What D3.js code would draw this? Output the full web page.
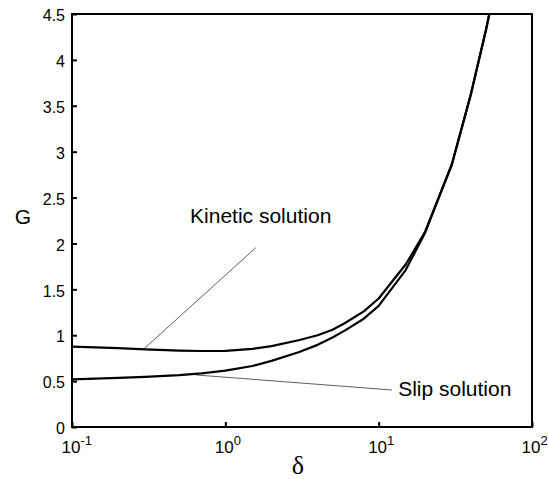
<!DOCTYPE html>
<html>
<head>
<meta charset="utf-8">
<script src="https://cdn.jsdelivr.net/npm/d3@7"></script>
<style>
  body { margin: 0; background: #fff; }
  svg { display: block; font-family: "Liberation Sans", Arial, Helvetica, sans-serif; }
  .axis path { display: none; }
  .axis line { stroke: #000; stroke-width: 2; }
  .axis text { fill: #000; }
</style>
</head>
<body>
<div id="chart"></div>
<script>
// values
var delta   = [0.1, 0.2, 0.3, 0.5, 0.7, 1, 1.5, 2, 3, 4, 5, 6, 8, 10, 15, 20, 30, 40, 50, 60];
var kinetic = [0.875, 0.86, 0.846, 0.833, 0.828, 0.83, 0.852, 0.882, 0.945, 1.0, 1.06, 1.13, 1.26, 1.40, 1.77, 2.12, 2.86, 3.63, 4.32, 4.95];
var slip    = [0.52, 0.535, 0.546, 0.565, 0.585, 0.615, 0.665, 0.72, 0.815, 0.895, 0.975, 1.05, 1.18, 1.32, 1.71, 2.11, 2.86, 3.63, 4.32, 4.95];

var xTicks = [0.1, 1, 10, 100];
var yTicks = [0, 0.5, 1, 1.5, 2, 2.5, 3, 3.5, 4, 4.5];

// annotation pointers in data units: [delta, G]
var kineticPointer = [[0.292, 0.846], [1.58, 1.954]];
var slipPointer    = [[0.644, 0.567], [12.2, 0.403]];
var kineticLabel = {text: "Kinetic solution", at: [0.589, 2.22]};
var slipLabel    = {text: "Slip solution", at: [13.4, 0.338]};

var W = 548, H = 479;
var margin = {top: 14, right: 16, bottom: 52, left: 72},
  width = W - margin.left - margin.right,
  height = H - margin.top - margin.bottom;

var svg = d3.select("#chart").append("svg")
  .attr("width", W).attr("height", H);

var g = svg.append("g")
  .attr("transform", "translate(" + margin.left + "," + margin.top + ")");

var x = d3.scaleLog().domain([0.1, 100]).range([0, width]);
var y = d3.scaleLinear().domain([0, 4.5]).range([height, 0]);

g.append("clipPath").attr("id", "clip")
  .append("rect").attr("width", width).attr("height", height);

// x axis, ticks pointing inward
var gx = g.append("g")
  .attr("class", "axis")
  .attr("transform", "translate(0," + height + ")")
  .call(d3.axisBottom(x).tickValues(xTicks).tickSize(-5).tickSizeOuter(0).tickPadding(0).tickFormat(""));

gx.selectAll(".tick text")
  .attr("text-anchor", "start")
  .attr("x", -11)
  .attr("y", 26)
  .attr("dy", null)
  .style("font-size", "17px")
  .each(function (d) {
    var t = d3.select(this);
    t.append("tspan").text("10");
    t.append("tspan").attr("dy", -8).style("font-size", "13px")
      .text(String(Math.round(Math.log10(d))));
  });

// y axis
var gy = g.append("g")
  .attr("class", "axis")
  .call(d3.axisLeft(y).tickValues(yTicks).tickSize(-5).tickSizeOuter(0).tickPadding(7)
    .tickFormat(function (d) { return d3.format("~g")(d); }));

gy.selectAll(".tick text")
  .style("font-size", "16px")
  .attr("dy", "0.42em");

// frame
g.append("rect")
  .attr("width", width).attr("height", height)
  .attr("fill", "none").attr("stroke", "#000").attr("stroke-width", 2);

// curves
var line = d3.line()
  .x(function (d) { return x(d[0]); })
  .y(function (d) { return y(d[1]); });

var curves = [d3.zip(delta, kinetic), d3.zip(delta, slip)];

g.append("g").attr("clip-path", "url(#clip)")
  .selectAll(".curve").data(curves).enter()
  .append("path")
  .attr("class", "curve")
  .attr("d", line)
  .attr("fill", "none")
  .attr("stroke", "#000")
  .attr("stroke-width", 2.2)
  .attr("stroke-linejoin", "round");

// annotation pointers
g.selectAll(".pointer").data([kineticPointer, slipPointer]).enter()
  .append("path")
  .attr("class", "pointer")
  .attr("d", line)
  .attr("fill", "none")
  .attr("stroke", "#333")
  .attr("stroke-width", 0.8);

g.selectAll(".note").data([kineticLabel, slipLabel]).enter()
  .append("text")
  .attr("class", "note")
  .attr("x", function (d) { return x(d.at[0]); })
  .attr("y", function (d) { return y(d.at[1]); })
  .style("font-size", "21px")
  .text(function (d) { return d.text; });

// axis titles
svg.append("text")
  .attr("x", 23).attr("y", 224)
  .attr("text-anchor", "middle")
  .style("font-size", "21px")
  .text("G");

svg.append("text")
  .attr("x", 298).attr("y", 474)
  .attr("text-anchor", "middle")
  .style("font-family", "'Liberation Serif', 'Times New Roman', serif")
  .style("font-size", "26px")
  .text("δ");
</script>
</body>
</html>
